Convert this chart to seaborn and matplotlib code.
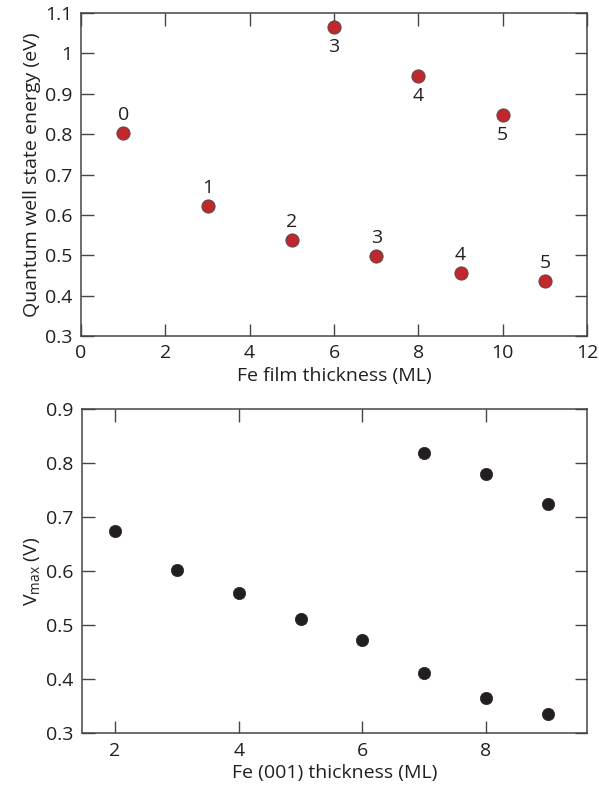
import matplotlib
matplotlib.use("Agg")
import matplotlib.pyplot as plt
import seaborn as sns
import pandas as pd
from matplotlib.ticker import FuncFormatter

# Quantum well state energies vs. Fe film thickness
qw_thickness = [1, 3, 5, 7, 9, 11, 6, 8, 10]
qw_energy = [0.803, 0.622, 0.537, 0.497, 0.456, 0.436, 1.066, 0.944, 0.847]
qw_index = ["0", "1", "2", "3", "4", "5", "3", "4", "5"]
qw_branch = ["low", "low", "low", "low", "low", "low", "high", "high", "high"]

# Peak voltage vs. Fe(001) thickness
vmax_thickness = [2, 3, 4, 5, 6, 7, 8, 9, 7, 8, 9]
vmax_value = [0.675, 0.603, 0.559, 0.512, 0.472, 0.412, 0.366, 0.336,
              0.820, 0.780, 0.725]

top_xticks = [0, 2, 4, 6, 8, 10, 12]
top_yticks = [0.3, 0.4, 0.5, 0.6, 0.7, 0.8, 0.9, 1.0, 1.1]
bot_xticks = [2, 4, 6, 8]
bot_yticks = [0.3, 0.4, 0.5, 0.6, 0.7, 0.8, 0.9]

sns.set_theme(style="white")
plt.rcParams["font.family"] = ["Open Sans", "DejaVu Sans"]
plt.rcParams["mathtext.default"] = "regular"

SPINE = "#454545"
TEXT = "#231f20"
FS = 14

fig = plt.figure(figsize=(5.99, 7.92), dpi=100)
ax1 = fig.add_axes([81 / 599, 1 - 336 / 792, 506 / 599, 323 / 792])
ax2 = fig.add_axes([81.7 / 599, 1 - 733.3 / 792, 505.6 / 599, 324 / 792])

qw = pd.DataFrame({"t": qw_thickness, "E": qw_energy,
                   "n": qw_index, "branch": qw_branch})
sns.scatterplot(data=qw, x="t", y="E", ax=ax1, s=90, color="#c1272d",
                edgecolor="#5a4a4a", linewidth=0.7, zorder=3)
for t, e, n, b in zip(qw["t"], qw["E"], qw["n"], qw["branch"]):
    dy = 13 if b == "low" else -14.5
    ax1.annotate(n, (t, e), xytext=(0, dy), textcoords="offset points",
                 ha="center", va="center", fontsize=FS, color=TEXT)

vm = pd.DataFrame({"t": vmax_thickness, "V": vmax_value})
sns.scatterplot(data=vm, x="t", y="V", ax=ax2, s=78, color="#231f20",
                edgecolor="#231f20", linewidth=0.5, zorder=3)

fmt = FuncFormatter(lambda v, p: f"{v:g}")

ax1.set_xlim(0, 12)
ax1.set_ylim(0.3, 1.1)
ax1.set_xticks(top_xticks)
ax1.set_yticks(top_yticks)
ax1.set_xlabel("Fe film thickness (ML)", fontsize=FS, color=TEXT, labelpad=3)
ax1.set_ylabel("Quantum well state energy (eV)", fontsize=FS, color=TEXT,
               labelpad=3)

ax2.set_xlim(1.46, 9.64)
ax2.set_ylim(0.3, 0.9)
ax2.set_xticks(bot_xticks)
ax2.set_yticks(bot_yticks)
ax2.set_xlabel("Fe (001) thickness (ML)", fontsize=FS, color=TEXT, labelpad=3)
ax2.set_ylabel("V$_{max}$ (V)", fontsize=FS, color=TEXT, labelpad=3)

for ax in (ax1, ax2):
    ax.xaxis.set_major_formatter(fmt)
    ax.yaxis.set_major_formatter(fmt)
    ax.tick_params(direction="in", length=9, width=1, color=SPINE,
                   top=True, right=True, bottom=True, left=True,
                   labelsize=FS, labelcolor=TEXT)
    ax.tick_params(axis="y", pad=6)
    ax.tick_params(axis="x", pad=6)
    for sp in ax.spines.values():
        sp.set_color(SPINE)
        sp.set_linewidth(1.1)
    ax.grid(False)

fig.savefig("out.png", dpi=100)
